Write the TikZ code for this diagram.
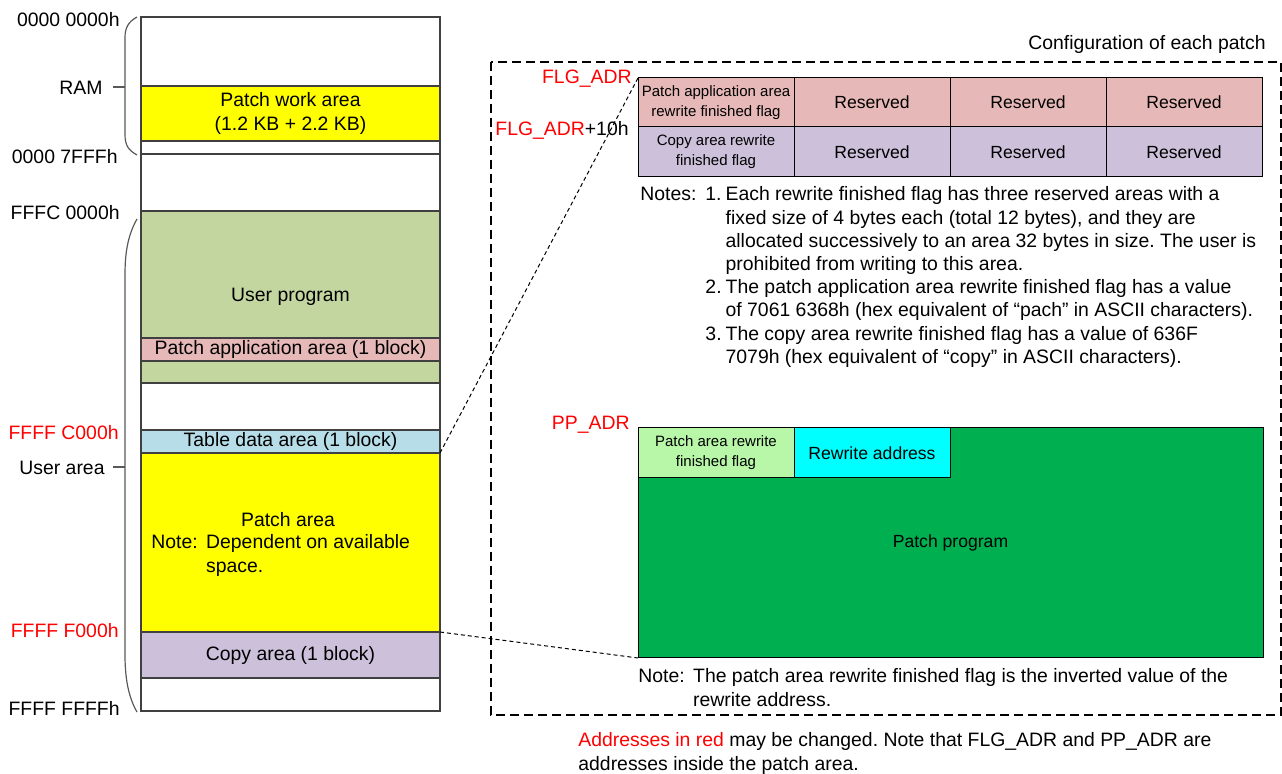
\documentclass[tikz,border=0pt]{standalone}
\usepackage{fontspec}
\setmainfont{Liberation Sans}

\definecolor{workyellow}{HTML}{FFFF00}
\definecolor{usergreen}{HTML}{C4D6A0}
\definecolor{apppink}{HTML}{E6B9B8}
\definecolor{tableblue}{HTML}{B7DEE8}
\definecolor{copypurple}{HTML}{CCC0DA}
\definecolor{flaggreen}{HTML}{B8F7A8}
\definecolor{addrcyan}{HTML}{00FFFF}
\definecolor{proggreen}{HTML}{00B050}
\definecolor{addrred}{HTML}{FF0000}

\newcommand{\txtmain}{\fontsize{9.7}{11.6}\selectfont}
\newcommand{\txtmid}{\fontsize{8.8}{10.6}\selectfont}
\newcommand{\txtsmall}{\fontsize{7.5}{10}\selectfont}

\tikzset{
  blk/.style={draw=black!75, line width=0.6pt, anchor=north west, minimum width=149.5pt,
              inner sep=0pt, outer sep=0pt, align=center, font=\txtmain},
  cell/.style={draw=black, line width=0.5pt, anchor=north west, minimum width=78pt,
               inner sep=0.5pt, outer sep=0pt, align=center, font=\txtmid},
  addr/.style={anchor=east, inner sep=0pt, font=\txtmain},
  brace/.style={draw=black!65, line width=0.6pt},
  link/.style={line width=0.5pt, dash pattern=on 2pt off 1.5pt},
  frame/.style={line width=0.6pt, dash pattern=on 4.5pt off 2.5pt}
}

\begin{document}
\frenchspacing
\begin{tikzpicture}[x=0.5pt, y=-0.5pt]
  \useasboundingbox (0,0) rectangle (1282,774);

  % Memory map
  \foreach \y/\h/\col/\nm/\txt in {
      17/69/white/ramtop/{},
      86/55/workyellow/work/{Patch work area\\(1.2 KB + 2.2 KB)},
      141/13/white/ramend/{},
      154/57/white/gap/{},
      211/172/usergreen/user/{User program},
      338/23/apppink/app/{Patch application area (1 block)},
      383/47/white/gaptwo/{},
      430/23/tableblue/tbl/{Table data area (1 block)},
      453/179/workyellow/patch/{},
      632/46/copypurple/copy/{Copy area (1 block)},
      678/33/white/tail/{}}
  {
    \node[blk, fill=\col, minimum height=\h*0.5pt] (\nm) at (141,\y) {\txt};
  }
  \node[font=\txtmain] (patchtxt) at (288,520) {Patch area};
  \node[anchor=base west, inner sep=0pt, font=\txtmain] (patchnote) at (151,549)
    {\begin{tabular}[t]{@{}l@{\hspace{4.2pt}}l@{}}Note: & Dependent on available\\ & space.\end{tabular}};

  % Addresses
  \node[addr] (a0) at (120,20) {0000 0000h};
  \node[addr] (ram) at (103,88) {RAM};
  \node[addr] (a7fff) at (118,157) {0000 7FFFh};
  \node[addr] (afffc) at (120,213) {FFFC 0000h};
  \node[addr, text=addrred] (ac000) at (119,433) {FFFF C000h};
  \node[addr] (userarea) at (105,468) {User area};
  \node[addr, text=addrred] (af000) at (119,631) {FFFF F000h};
  \node[addr] (affff) at (120,708) {FFFF FFFFh};

  % Brackets
  \draw[brace] (137,17) .. controls (128,22) and (125,28) .. (125,38) -- (125,134) .. controls (125,145) and (128,150) .. (137,155);
  \draw[brace] (113,87) -- (125,87);
  \draw[brace] (137,219) .. controls (128,235) and (125,252) .. (125,275) -- (125,655) .. controls (125,680) and (129,698) .. (137,712);
  \draw[brace] (113,467) -- (125,467);

  % Configuration of each patch
  \node[anchor=east, inner sep=0pt, font=\txtmain] (cfgtitle) at (1266,44) {Configuration of each patch};
  \draw[frame] (491,62) rectangle (1281,715);

  % Rewrite finished flags
  \node[cell, fill=apppink, minimum height=24.5pt, font=\txtsmall] (flgA) at (638,78) {Patch application area\\rewrite finished flag};
  \node[cell, fill=copypurple, minimum height=25pt, font=\txtsmall] (flgB) at (638,127) {Copy area rewrite\\finished flag};
  \foreach \i in {1,2,3}
  {
    \node[cell, fill=apppink, minimum height=24.5pt] (flgA\i) at ({638+156*\i},78) {Reserved};
    \node[cell, fill=copypurple, minimum height=25pt] (flgB\i) at ({638+156*\i},127) {Reserved};
  }
  \node[addr, text=addrred] (flgadr) at (632,79) {FLG\_ADR};
  \node[addr] (flgadrten) at (629,130) {\textcolor{addrred}{FLG\_ADR}+10h};

  \node[anchor=base west, inner sep=0pt, font=\txtmain] (notes) at (640,201)
    {\begin{tabular}[t]{@{}l@{\hspace{4.5pt}}r@{\hspace{2pt}}l@{}}
      Notes: & 1. & Each rewrite finished flag has three reserved areas with a\\
       & & fixed size of 4 bytes each (total 12 bytes), and they are\\
       & & allocated successively to an area 32 bytes in size. The user is\\
       & & prohibited from writing to this area.\\
       & 2. & The patch application area rewrite finished flag has a value\\
       & & of 7061 6368h (hex equivalent of “pach” in ASCII characters).\\
       & 3. & The copy area rewrite finished flag has a value of 636F\\
       & & 7079h (hex equivalent of “copy” in ASCII characters).
    \end{tabular}};

  % Patch program
  \node[cell, fill=proggreen, minimum width=312.5pt, minimum height=115pt] (prog) at (638,428) {Patch program};
  \node[cell, fill=flaggreen, minimum height=25pt, font=\txtsmall] (pflag) at (638,428) {Patch area rewrite\\finished flag};
  \node[cell, fill=addrcyan, minimum height=25pt] (raddr) at (794,428) {Rewrite address};
  \node[addr, text=addrred] (ppadr) at (630,425) {PP\_ADR};

  \node[anchor=base west, inner sep=0pt, font=\txtmain] (prognote) at (638,683)
    {\begin{tabular}[t]{@{}l@{\hspace{4.2pt}}l@{}}Note: & The patch area rewrite finished flag is the inverted value of the\\ & rewrite address.\end{tabular}};

  % Zoom lines
  \draw[link] (tbl.south east) -- (flgA.north west);
  \draw[link] (copy.north east) -- (prog.south west);

  \node[anchor=base west, inner sep=0pt, font=\txtmain] (remark) at (578,747)
    {\begin{tabular}[t]{@{}l@{}}\textcolor{addrred}{Addresses in red} may be changed. Note that FLG\_ADR and PP\_ADR are\\addresses inside the patch area.\end{tabular}};
\end{tikzpicture}
\end{document}
